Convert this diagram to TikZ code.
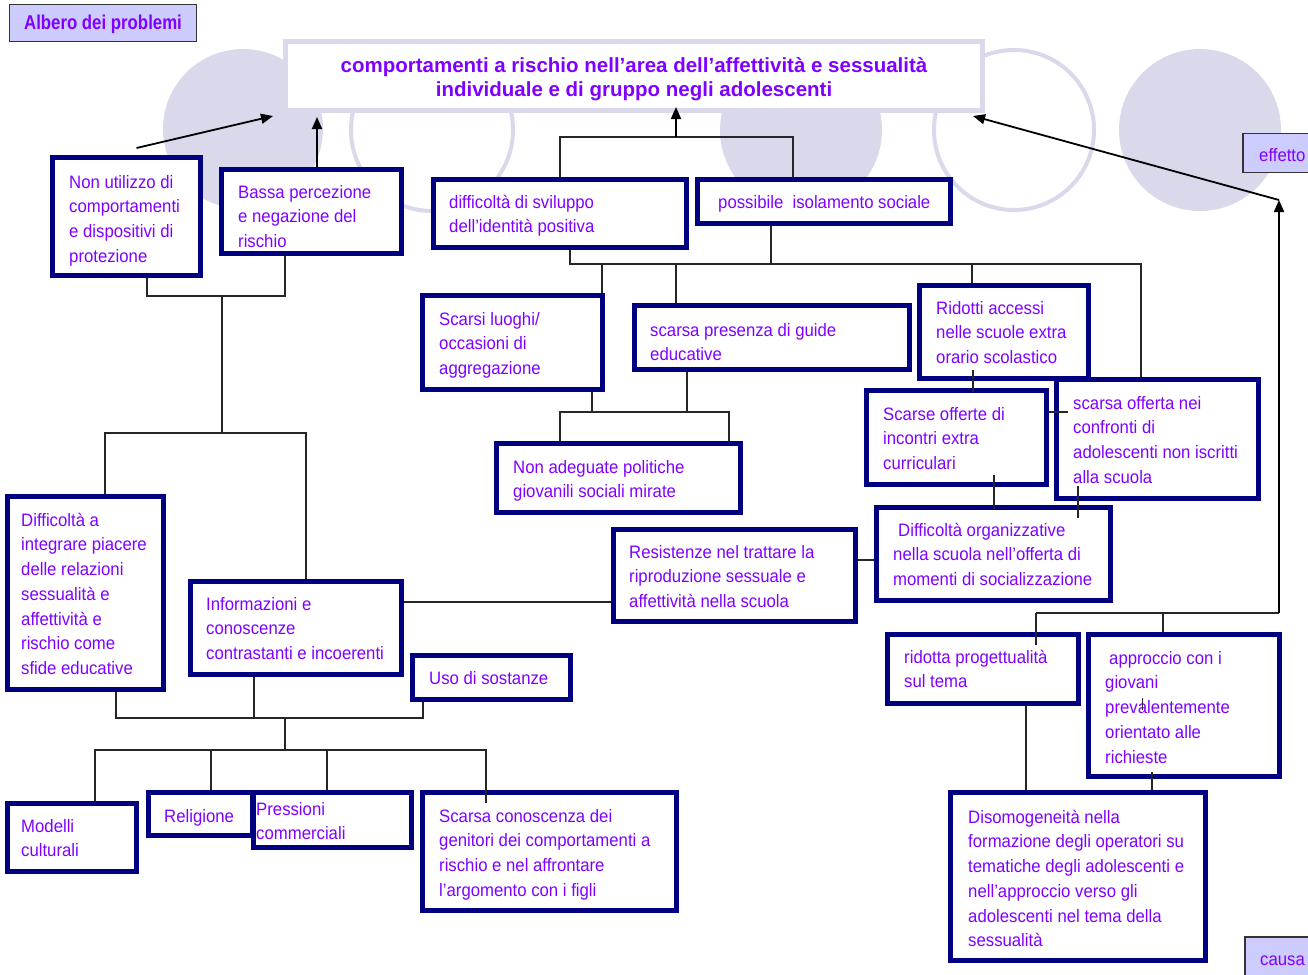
\documentclass[tikz,border=0pt]{standalone}
\usepackage{fontspec}
\setmainfont{Liberation Sans}
\newfontfamily\narrowf[FakeStretch=0.93]{Liberation Sans}
\newfontfamily\albf[FakeStretch=0.84]{Liberation Sans}
\usetikzlibrary{arrows.meta,calc}
\definecolor{txtc}{RGB}{128,0,255}
\definecolor{navyb}{RGB}{0,0,128}
\definecolor{lav}{RGB}{217,217,235}
\definecolor{labfill}{RGB}{204,204,255}
\pgfdeclarelayer{back}
\pgfsetlayers{back,main}
\tikzset{
 box/.style={draw=navyb, line width=5pt, fill=white, inner sep=0pt},
 txt/.style={anchor=north west, inner sep=0pt, align=left, text=txtc, font=\narrowf\fontsize{18}{24.7}\selectfont},
 tree/.style={draw=black!85, line width=1.2pt},
 arr/.style={draw=black, line width=1.8pt, -{Triangle[length=12pt,width=10pt]}},
 lab/.style={draw=black!80, line width=1.4pt, fill=labfill, inner sep=0pt},
}
\newcommand{\bx}[8]{%
  \node[box, minimum width={#4-#2-5}, minimum height={#5-#3-5}] (#1) at ({(#2+#4)/2},{(#3+#5)/2}) {};
  \node[txt] (#1t) at (#6,{#7-8}) {\rule{0pt}{14pt}#8};
}
\begin{document}
\begin{tikzpicture}[x=1pt,y=-1pt]
\useasboundingbox (0,0) rectangle (1308,974);
\begin{pgfonlayer}{back}
\fill[lav] (243,129) circle[radius=80pt];
\draw[lav, line width=4pt] (432,130) circle[radius=81pt];
\fill[lav] (801,130) circle[radius=81pt];
\draw[lav, line width=4pt] (1014,130) circle[radius=80pt];
\fill[lav] (1200,130) circle[radius=81pt];
\node[draw=lav, line width=5pt, fill=white, inner sep=0pt, minimum width=697, minimum height=69] (T) at (634,76) {};
\end{pgfonlayer}
\node[anchor=north, inner sep=0pt, align=center, text=txtc, font=\bfseries\fontsize{20.5}{24.5}\selectfont] (Tt) at (634,56) {\rule{0pt}{16pt}comportamenti a rischio nell’area dell’affettività e sessualità\\individuale e di gruppo negli adolescenti};

% boxes
\bx{B1}{50}{155}{203}{278}{69}{182}{Non utilizzo di\\comportamenti\\e dispositivi di\\protezione}
\bx{B2}{219}{167}{404}{256}{238}{192}{Bassa percezione\\e negazione del\\rischio}
\bx{B3}{431}{177}{689}{250}{449}{202}{difficoltà di sviluppo\\dell’identità positiva}
\bx{B4}{695}{177}{953}{226}{718}{202}{possibile\ \ isolamento sociale}
\bx{B5}{420}{293}{605}{392}{439}{319}{Scarsi luoghi/\\occasioni di\\aggregazione}
\bx{B6}{632}{303}{912}{372}{650}{330}{scarsa presenza di guide\\educative}
\bx{B7}{917}{283}{1091}{381}{936}{308}{Ridotti accessi\\nelle scuole extra\\orario scolastico}
\bx{B8}{494}{441}{743}{515}{513}{467}{Non adeguate politiche\\giovanili sociali mirate}
\bx{B9}{864}{388}{1049}{487}{883}{414}{Scarse offerte di\\incontri extra\\curriculari}
\bx{B10}{1054}{377}{1261}{501}{1073}{403}{scarsa offerta nei\\confronti di\\adolescenti non iscritti\\alla scuola}
\bx{B11}{611}{527}{858}{624}{629}{552}{Resistenze nel trattare la\\riproduzione sessuale e\\affettività nella scuola}
\bx{B12}{874}{505}{1113}{603}{893}{530}{\hspace{5pt}Difficoltà organizzative\\nella scuola nell’offerta di\\momenti di socializzazione}
\bx{B13}{5}{494}{166}{692}{21}{520}{Difficoltà a\\integrare piacere\\delle relazioni\\sessualità e\\affettività e\\rischio come\\sfide educative}
\bx{B14}{188}{579}{404}{677}{206}{604}{Informazioni e\\conoscenze\\contrastanti e incoerenti}
\bx{B15}{410}{653}{573}{702}{429}{678}{Uso di sostanze}
\bx{B16}{5}{801}{139}{874}{21}{826}{Modelli\\culturali}
\bx{B17}{146}{790}{255}{838}{164}{816}{Religione}
\bx{B18}{251}{790}{414}{850}{256}{809}{Pressioni\\commerciali}
\bx{B19}{420}{790}{679}{913}{439}{816}{Scarsa conoscenza dei\\genitori dei comportamenti a\\rischio e nel affrontare\\l’argomento con i figli}
\bx{B20}{885}{632}{1081}{706}{904}{657}{ridotta progettualità\\sul tema}
\bx{B21}{1086}{632}{1282}{779}{1105}{658}{\hspace{4pt}approccio con i\\giovani\\prevalentemente\\orientato alle\\richieste}
\bx{B22}{948}{790}{1208}{963}{968}{817}{Disomogeneità nella\\formazione degli operatori su\\tematiche degli adolescenti e\\nell’approccio verso gli\\adolescenti nel tema della\\sessualità}

% connectors under boxes
\begin{pgfonlayer}{back}
\draw[tree] (B3.north -| 560,0) -- (560,137) -- (793,137) -- (B4.north -| 793,0);
\draw[tree] (B3.south -| 570,0) -- (570,264) -- (1141,264) -- (B10.north -| 1141,0);
\draw[tree] (B4.south -| 771,0) -- (771,264);
\draw[tree] (602,264) -- (B5.north -| 602,0);
\draw[tree] (676,264) -- (B6.north -| 676,0);
\draw[tree] (972,264) -- (B7.north -| 972,0);
\draw[tree] (B5.south -| 592,0) -- (592,412);
\draw[tree] (B6.south -| 687,0) -- (687,412);
\draw[tree] (B8.north -| 560,0) -- (560,412) -- (729,412) -- (B8.north -| 729,0);
\draw[tree] (B11.east |- 0,560) -- (B12.west |- 0,560);
\draw[tree] (B14.east |- 0,602) -- (B11.west |- 0,602);
\draw[tree] (B1.south -| 147,0) -- (147,296) -- (285,296) -- (B2.south -| 285,0);
\draw[tree] (222,296) -- (222,433);
\draw[tree] (B13.north -| 105,0) -- (105,433) -- (306,433) -- (B14.north -| 306,0);
\draw[tree] (B13.south -| 116,0) -- (116,718) -- (423,718) -- (B15.south -| 423,0);
\draw[tree] (B14.south -| 254,0) -- (254,718);
\draw[tree] (285,718) -- (285,750);
\draw[tree] (B16.north -| 95,0) -- (95,750) -- (486,750) -- (B19.north -| 486,0);
\draw[tree] (211,750) -- (B17.north -| 211,0);
\draw[tree] (327,750) -- (B18.north -| 327,0);
\draw[tree] (B20.south -| 1026,0) -- (B22.north -| 1026,0);
\draw[tree] (1036,613) -- (1279,613);
\draw[tree] (1163,613) -- (B21.north -| 1163,0);
\end{pgfonlayer}

% connectors over boxes
\draw[tree] ($(B7.south -| 973,0)+(0,-11)$) -- ($(B9.north -| 973,0)+(0,4)$);
\draw[tree] (B9.east |- 0,412) -- ($(B10.west |- 0,412)+(14,0)$);
\draw[tree] ($(B9.south -| 994,0)+(0,-12)$) -- ($(B12.north -| 994,0)+(0,4)$);
\draw[tree] ($(B10.south -| 1078,0)+(0,-15)$) -- ($(B12.north -| 1078,0)+(0,13)$);
\draw[tree] (B19.north -| 486,0) -- ++(0,13);
\draw[tree] ($(B20.north -| 1036,0)+(0,13)$) -- (1036,613);
\draw[tree] ($(B21.south -| 1152,0)+(0,-7)$) -- (B22.north -| 1152,0);
\draw[tree, line width=1pt] (1142,698) -- (1142,710);

% arrows
\draw[arr] ($(B1.north)+(10,-7)$) -- ($(T.south west)+(-10,3)$);
\draw[arr] (B2.north -| 317,0) -- ($(T.south -| 317,0)+(0,4)$);
\draw[arr] (676,137) -- ($(T.south -| 676,0)+(0,-6)$);
\coordinate (bend) at (1279,200);
\draw[arr] (1279,613) -- (bend);
\draw[arr] (bend) -- ($(T.south east)+(-12,3)$);

% label boxes
\node[lab, minimum width=187, minimum height=37] (Alb) at (103,23) {};
\node[anchor=base, inner sep=0pt, text=txtc, font=\albf\bfseries\fontsize{20}{24}\selectfont] (Albt) at (103,30) {Albero dei problemi};
\node[lab, minimum width=70, minimum height=39] (Eff) at (1278,153) {};
\node[anchor=base west, inner sep=0pt, text=txtc, font=\narrowf\fontsize{18}{24}\selectfont] (Efft) at (1259,161) {effetto};
\node[lab, minimum width=68, minimum height=40] (Cau) at (1279,957) {};
\node[anchor=base west, inner sep=0pt, text=txtc, font=\narrowf\fontsize{18}{24}\selectfont] (Caut) at (1260,965) {causa};
\end{tikzpicture}
\end{document}
